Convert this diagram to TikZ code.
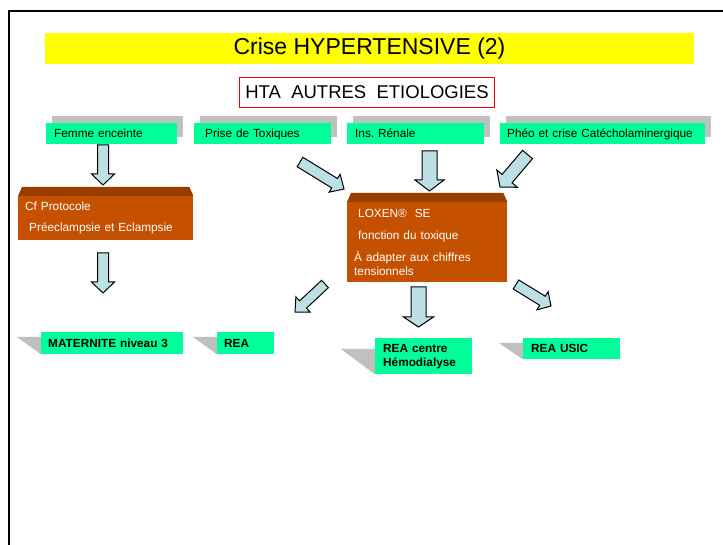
\documentclass[tikz,border=0pt]{standalone}
\usepackage{fontspec}
\setmainfont{Liberation Sans}
\usetikzlibrary{calc,shadows,backgrounds}
\frenchspacing
\definecolor{ttlyellow}{RGB}{255,255,0}
\definecolor{boxgreen}{RGB}{0,255,153}
\definecolor{shadowgrey}{RGB}{192,192,192}
\definecolor{bodyorange}{RGB}{197,80,0}
\definecolor{bevelbrown}{RGB}{153,61,0}
\definecolor{arrowblue}{RGB}{189,224,228}
\definecolor{framered}{RGB}{240,0,0}
\newcommand\blockarrow[5]{%
  \coordinate (ba-base) at ($(#2)!#5pt!(#1)$);
  \draw[arrowsty] ($(#1)!#3pt!90:(#2)$) -- ($(ba-base)!#3pt!-90:(#1)$)
    -- ($(ba-base)!#4pt!-90:(#1)$) -- (#2) -- ($(ba-base)!#4pt!90:(#1)$)
    -- ($(ba-base)!#3pt!90:(#1)$) -- ($(#1)!#3pt!-90:(#2)$) -- cycle;
}
\tikzset{
  smalltext/.style={font=\fontsize{11.8}{14}\selectfont},
  topbox/.style={fill=boxgreen, smalltext, inner xsep=8pt, inner ysep=0pt,
    minimum height=21pt, align=left, anchor=west, text height=9.4pt, text depth=2pt,
    general shadow={fill=shadowgrey, shadow xshift=6pt, shadow yshift=7pt}},
  botbox/.style={fill=boxgreen, font=\fontsize{11.8}{14}\selectfont\bfseries,
    inner xsep=7pt, inner ysep=0pt, align=left, anchor=north west},
  botshadow/.style={fill=shadowgrey},
  orangebody/.style={fill=bodyorange, text=white, smalltext, inner xsep=7pt,
    inner ysep=0pt, align=left, anchor=north west},
  bevel/.style={fill=bevelbrown},
  arrowsty/.style={fill=arrowblue, draw=black, line width=1pt, line join=miter},
}
\begin{document}
\begin{tikzpicture}[x=1pt,y=-1pt]
\useasboundingbox (0,0) rectangle (723,545);
% frame
\draw[line width=2.2pt] (9,546) -- (9,11) -- (724,11);
% title
\node[fill=ttlyellow, minimum width=649pt, minimum height=31pt, inner sep=0pt,
  font=\fontsize{23}{26}\selectfont] (title) at (369.5,48.5) {Crise HYPERTENSIVE (2)};
\node[draw=framered, line width=1.8pt, fill=white, minimum width=255pt, minimum height=30pt,
  inner sep=0pt, font=\fontsize{18.5}{22}\selectfont] (hta) at (367,92.5) {HTA\ \ AUTRES\ \ ETIOLOGIES};
% top boxes
\node[topbox, text width=115pt] (femme) at (46,133.5) {Femme enceinte};
\node[topbox, text width=123pt, inner xsep=7pt] at (194,133.5) (prise) {\hspace*{4pt}Prise de Toxiques};
\node[topbox, text width=121pt] (ins) at (347,133.5) {Ins. Rénale};
\node[topbox, text width=191pt, inner xsep=7pt] (pheo) at (500,133.5) {Phéo et crise Catécholaminergique};
% orange boxes
\node[orangebody, text width=161pt, minimum height=44pt] (proto) at (18,196)
  {Cf Protocole\\[7pt]\hspace*{4pt}Préeclampsie et Eclampsie};
\fill[bevel] (proto.north west) -- ($(proto.north west)+(4,-9)$) -- ($(proto.north east)+(-4,-9)$) -- (proto.north east) -- cycle;
\node[orangebody, text width=146pt, minimum height=80pt] (loxen) at (347,202)
  {\hspace*{4pt}LOXEN®\ \ SE\\[8pt]\hspace*{4pt}fonction du toxique\\[8pt]À adapter aux chiffres\\tensionnels};
\fill[bevel] (loxen.north west) -- ($(loxen.north west)+(4,-9)$) -- ($(loxen.north east)+(-4,-9)$) -- (loxen.north east) -- cycle;
% bottom boxes
\node[botbox, text width=128pt, minimum height=22pt] (mat) at (41,332) {MATERNITE niveau 3};
\node[botbox, text width=43pt, minimum height=22pt] (rea) at (217,332) {REA};
\node[botbox, text width=81pt, minimum height=36pt, inner xsep=8pt] (hemo) at (375,338) {REA centre\\Hémodialyse};
\node[botbox, text width=81pt, minimum height=21pt, inner xsep=8pt] (usic) at (523,338) {REA USIC};
\begin{pgfonlayer}{background}
\fill[botshadow] ($(mat.north west)+(-24,5)$) -- ($(mat.north west)+(0,5)$) -- (mat.south west) -- cycle;
\fill[botshadow] ($(rea.north west)+(-24,5)$) -- ($(rea.north west)+(0,5)$) -- (rea.south west) -- cycle;
\fill[botshadow] ($(hemo.north west)+(-34,11)$) -- ($(hemo.north west)+(0,11)$) -- (hemo.south west) -- cycle;
\fill[botshadow] ($(usic.north west)+(-24,5)$) -- ($(usic.north west)+(0,5)$) -- (usic.south west) -- cycle;
\end{pgfonlayer}
% arrow end points
\coordinate (a1s) at (103,145);   \coordinate (a1e) at (103,185);
\coordinate (a2s) at (300,162);   \coordinate (a2e) at (344,189);
\coordinate (a3s) at (429.5,151); \coordinate (a3e) at (429.5,191);
\coordinate (a4s) at (527.5,154.5); \coordinate (a4e) at (500,187);
\coordinate (a5s) at (103,253);   \coordinate (a5e) at (103,293);
\coordinate (a6s) at (325,284);   \coordinate (a6e) at (295,312);
\coordinate (a7s) at (418.5,287); \coordinate (a7e) at (418.5,327);
\coordinate (a8s) at (516,284.5); \coordinate (a8e) at (551,306);
\blockarrow{a1s}{a1e}{5.5}{11.5}{11}
\blockarrow{a2s}{a2e}{5.5}{10.5}{11}
\blockarrow{a3s}{a3e}{7.5}{14.5}{11}
\blockarrow{a4s}{a4e}{6.5}{13.5}{11}
\blockarrow{a5s}{a5e}{5.5}{11.5}{11}
\blockarrow{a6s}{a6e}{5}{10.5}{11}
\blockarrow{a7s}{a7e}{7.5}{15}{10}
\blockarrow{a8s}{a8e}{5.3}{10.7}{10}
\end{tikzpicture}
\end{document}
